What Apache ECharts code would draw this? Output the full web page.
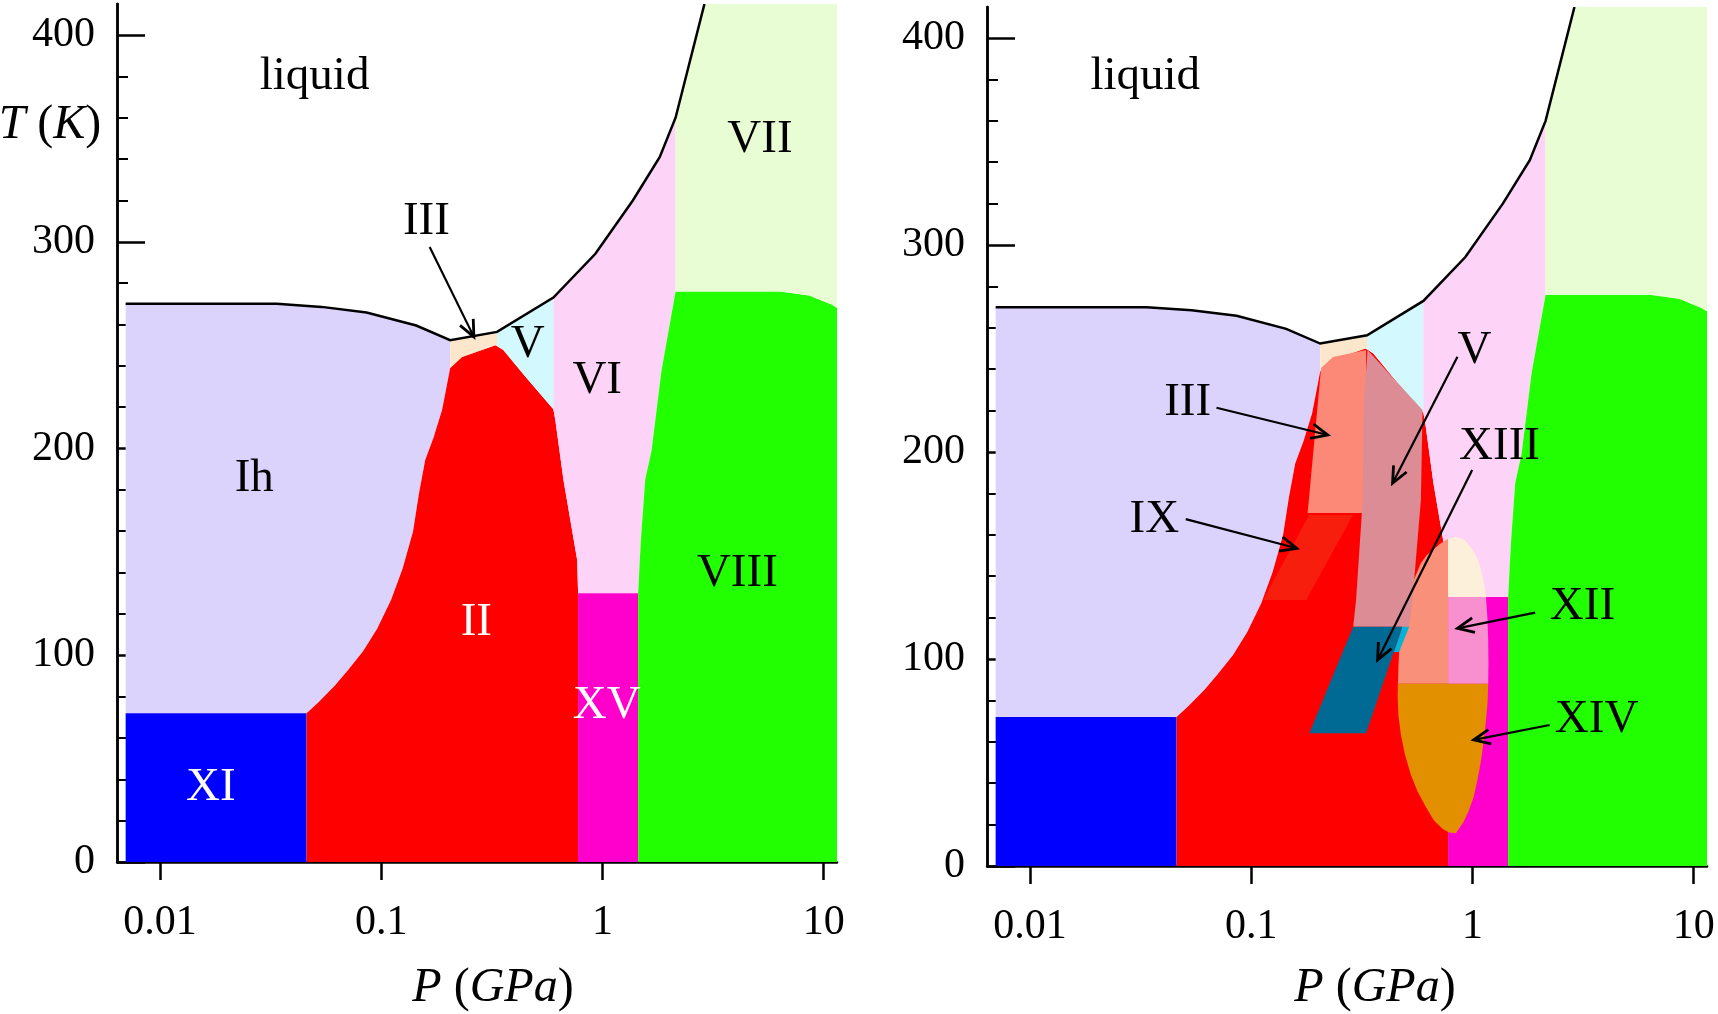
<!DOCTYPE html>
<html><head><meta charset="utf-8">
<script src="https://cdn.jsdelivr.net/npm/echarts@6/dist/echarts.min.js"></script>
<style>html,body{margin:0;padding:0;background:#fff}#c{width:1718px;height:1014px}</style>
</head><body><div id="c"></div>
<script>
// ---------- axis ticks ----------
const xTickP = [0.01, 0.1, 1, 10];
const xTickLabels = ['0.01', '0.1', '1', '10'];
const yMajorTicks = [0, 100, 200, 300, 400];
const yMinorTicks = [20, 40, 60, 80, 120, 140, 160, 180, 220, 240, 260, 280, 320, 340, 360, 380];

// ---------- phase regions, points are [P (GPa), T (K)] ----------
const liquidLine = [[0.0070,270],[0.0337,270],[0.0538,268.5],[0.0859,265.8],[0.144,259.5],[0.205,252.4],[0.334,256.4],[0.600,273],[0.929,294.2],[1.374,320.1],[1.816,341],[2.14,360],[2.89,415]];
const phaseIh = [[0.0070,72],[0.0070,270],[0.0337,270],[0.0538,268.5],[0.0859,265.8],[0.144,259.5],[0.205,252.4],[0.205,238.9],[0.196,228],[0.1884,218.6],[0.172,205],[0.1581,194.4],[0.148,178],[0.1393,159.9],[0.125,142],[0.1109,126.8],[0.096,113],[0.0828,101.9],[0.071,93],[0.0618,85.4],[0.0518,77],[0.046,72]];
const phaseXI = [[0.0070,0],[0.046,0],[0.046,72],[0.0070,72]];
const phaseII = [[0.046,0],[0.046,72],[0.0518,77],[0.0618,85.4],[0.071,93],[0.0828,101.9],[0.096,113],[0.1109,126.8],[0.125,142],[0.1393,159.9],[0.148,178],[0.1581,194.4],[0.172,205],[0.1884,218.6],[0.196,228],[0.205,238.9],[0.2317,244.3],[0.328,250],[0.3565,247.6],[0.4487,234.7],[0.600,219],[0.6124,213.7],[0.6668,184.7],[0.7691,146],[0.776,130],[0.776,0]];
const phaseIII = [[0.205,238.9],[0.205,252.4],[0.334,256.4],[0.334,250],[0.328,250],[0.2317,244.3]];
const phaseV = [[0.334,256.4],[0.600,273],[0.600,219],[0.4487,234.7],[0.3565,247.6],[0.334,250]];
const phaseVI = [[0.600,273],[0.929,294.2],[1.374,320.1],[1.816,341],[2.14,360],[2.14,276],[1.85,238],[1.667,199],[1.56,185],[1.49,155],[1.45,130],[0.776,130],[0.7691,146],[0.6668,184.7],[0.6124,213.7],[0.600,219]];
const phaseXV = [[0.776,0],[1.45,0],[1.45,130],[0.776,130]];
const phaseVIII = [[1.45,0],[11.5,0],[11.5,268],[10.84,269.6],[8.6,274],[6.35,276],[2.14,276],[1.85,238],[1.667,199],[1.56,185],[1.49,155],[1.45,130]];
const phaseVII = [[2.14,276],[2.14,360],[2.89,415],[11.5,415],[11.5,268],[10.84,269.6],[8.6,274],[6.35,276]];

// ---------- metastable / ordered phases (right panel overlays) ----------
const overIII = [[0.207,240.6],[0.2344,245.9],[0.3304,249.3],[0.3304,170.5],[0.1799,170.5]];
const overIX = [[0.1828,169.6],[0.2884,169.6],[0.177,128.5],[0.1132,128.5]];
const ellSalmon = [[0.7762,158],[0.7762,88],[0.4603,88],[0.4630,97],[0.4667,104.3],[0.4790,114],[0.4955,122.7],[0.5150,130],[0.5358,136.6],[0.5848,146.4],[0.6200,150],[0.6607,152.7],[0.7100,155.5],[0.7586,157.5]];
const ellCream = [[0.7762,158],[0.8414,159.1],[0.9200,157.5],[0.9897,153.6],[1.050,149],[1.094,143],[1.130,136],[1.151,130],[0.7762,130]];
const overXII = [[0.7762,130],[1.151,130],[1.168,120],[1.178,109.2],[1.181,98],[1.178,88],[0.7762,88]];
const overXIV = [[1.178,88],[1.170,79],[1.151,70.5],[1.125,60.5],[1.094,51.2],[1.055,42],[1.013,33.5],[0.960,26.5],[0.911,21.3],[0.8414,15.8],[0.7850,16.2],[0.7345,17.9],[0.6700,22],[0.6152,28.6],[0.5650,36],[0.5272,44],[0.4950,54],[0.4753,63.3],[0.4630,72.5],[0.4592,81.6],[0.4603,88]];
const overV = [[0.3357,249.3],[0.5948,220.3],[0.5848,176.8],[0.5358,128.5],[0.5164,115.6],[0.2891,115.6],[0.2979,128.5],[0.3192,176.8],[0.3236,225.1]];
const overXIII = [[0.2891,115.6],[0.4831,115.6],[0.4285,99.5],[0.3304,64.1],[0.1832,64.1],[0.2296,89.9]];
const overXIIIedge = [[0.4831,115.6],[0.5176,115.6],[0.4656,103.4],[0.4416,103.4]];

// ---------- labels [text, P, T] ----------
const labelsLeft = [['liquid',0.05,379.7],['III',0.16,309.5],['V',0.46,250],['VI',0.947,233],['VII',5.15,349.6],['Ih',0.0267,185.3],['VIII',4.07,139.7]];
const labelsLeftWhite = [['II',0.269,116],['XV',1.046,75.6],['XI',0.017,35.9]];
const labelsRight = [['liquid',0.0332,381.3],['III',0.0516,223.7],['V',1.02,249],['XIII',1.326,202.8],['IX',0.0365,167.4],['XII',3.14,125.4],['XIV',3.64,70.5]];

// ---------- arrows [from, to] ----------
const arrowsLeft = [[[0.1656,297.5],[0.2624,254]]];
const arrowsRight = [
  [[0.0697,221.4],[0.2218,208.2]],
  [[0.8555,246],[0.4355,184.9]],
  [[0.997,191.3],[0.3727,99.5]],
  [[0.0506,167.6],[0.1607,153.5]],
  [[1.92,122.4],[0.8555,114.8]],
  [[2.234,68.1],[1.013,60.9]]
];

const FONT = 'Liberation Serif';
const lg = Math.log10;
const LGMIN = -2.194, LGMAX = 1.06;

const chart = echarts.init(document.getElementById('c'), null, {renderer: 'canvas', width: 1718, height: 1014});

function xAxisDef(gi) {
  const vals = xTickP.map(lg);
  return {
    type: 'value', gridIndex: gi, min: LGMIN, max: LGMAX, position: 'bottom',
    splitLine: {show: false},
    axisLine: {onZero: false, lineStyle: {color: '#000', width: 2.5}},
    axisTick: {customValues: vals, inside: false, length: 18, lineStyle: {color: '#000', width: 2.5}},
    axisLabel: {
      customValues: vals, margin: 40, color: '#000', fontFamily: FONT, fontSize: 42,
      formatter: v => { const i = vals.findIndex(t => Math.abs(t - v) < 1e-6); return i >= 0 ? xTickLabels[i] : ''; }
    }
  };
}
function yMajor(gi) {
  return {
    type: 'value', gridIndex: gi, min: 0, max: 415, position: 'left',
    splitLine: {show: false},
    axisLine: {onZero: false, lineStyle: {color: '#000', width: 2.5}},
    axisTick: {customValues: yMajorTicks, inside: true, length: 28, lineStyle: {color: '#000', width: 2.5}},
    axisLabel: {customValues: yMajorTicks, margin: 22, color: '#000', fontFamily: FONT, fontSize: 42}
  };
}
function yMinor(gi) {
  return {
    type: 'value', gridIndex: gi, min: 0, max: 415, position: 'left', offset: 0,
    splitLine: {show: false},
    axisLine: {show: true, onZero: false, lineStyle: {color: '#000', width: 2.5}},
    axisTick: {show: true, customValues: yMinorTicks, inside: true, length: 11, lineStyle: {color: '#000', width: 2}},
    axisLabel: {show: false}
  };
}

function region(gi, pts, color, z) {
  return {
    type: 'custom', xAxisIndex: gi, yAxisIndex: gi * 2, data: [[0, 100]], z: z || 2, silent: true, clip: true,
    renderItem: (params, api) => ({
      type: 'polygon',
      shape: {points: pts.map(p => api.coord([lg(p[0]), p[1]]))},
      style: {fill: color}
    })
  };
}
function lineSeries(gi, pts) {
  return {
    type: 'custom', xAxisIndex: gi, yAxisIndex: gi * 2, data: [[0, 100]], z: 5, silent: true, clip: true,
    renderItem: (params, api) => ({
      type: 'polyline',
      shape: {points: pts.map(p => api.coord([lg(p[0]), p[1]]))},
      style: {stroke: '#000', lineWidth: 2.5, fill: null}
    })
  };
}
function arrowSeries(gi, arrows) {
  return {
    type: 'custom', xAxisIndex: gi, yAxisIndex: gi * 2, data: arrows.map((a, i) => [0, 100, i]), z: 6, silent: true, clip: false,
    renderItem: (params, api) => {
      const ar = arrows[params.dataIndex];
      const a = api.coord([lg(ar[0][0]), ar[0][1]]);
      const b = api.coord([lg(ar[1][0]), ar[1][1]]);
      const ang = Math.atan2(b[1] - a[1], b[0] - a[0]);
      const L = 18, w = 0.42;
      const p1 = [b[0] - L * Math.cos(ang - w), b[1] - L * Math.sin(ang - w)];
      const p2 = [b[0] - L * Math.cos(ang + w), b[1] - L * Math.sin(ang + w)];
      return {
        type: 'group', children: [
          {type: 'line', shape: {x1: a[0], y1: a[1], x2: b[0], y2: b[1]}, style: {stroke: '#000', lineWidth: 2.2}},
          {type: 'polyline', shape: {points: [p1, b, p2]}, style: {stroke: '#000', lineWidth: 2.8, fill: null}}
        ]
      };
    }
  };
}
function labelSeries(gi, labels, color) {
  return {
    type: 'custom', xAxisIndex: gi, yAxisIndex: gi * 2, data: labels.map((l, i) => [0, 100, i]), z: 7, silent: true, clip: false,
    renderItem: (params, api) => {
      const l = labels[params.dataIndex];
      const c = api.coord([lg(l[1]), l[2]]);
      return {
        type: 'text', x: c[0], y: c[1],
        style: {text: l[0], fill: color, fontFamily: FONT, fontSize: 47, align: 'center', verticalAlign: 'middle'}
      };
    }
  };
}

const series = [];
function baseDiagram(gi) {
  series.push(region(gi, phaseIh, '#DCD3FC'));
  series.push(region(gi, phaseXI, '#0000FF'));
  series.push(region(gi, phaseII, '#FF0000'));
  series.push(region(gi, phaseIII, '#FDE7CC'));
  series.push(region(gi, phaseV, '#D3F8FD'));
  series.push(region(gi, phaseVI, '#FDD3F7'));
  series.push(region(gi, phaseXV, '#FF00CC'));
  series.push(region(gi, phaseVIII, '#22FF00'));
  series.push(region(gi, phaseVII, '#E9FDD4'));
}
baseDiagram(0);
baseDiagram(1);
// overlays in right panel
[[overIII, '#FC8878'], [overIX, '#F81E0E'], [ellSalmon, '#F9907A'], [ellCream, '#FCF0DA'],
 [overXII, '#F890D0'], [overXIV, '#E39000'], [overV, '#DC8C94'], [overXIII, '#006A94'], [overXIIIedge, '#00B4D8']]
  .forEach(o => series.push(region(1, o[0], o[1], 3)));
series.push(lineSeries(0, liquidLine));
series.push(lineSeries(1, liquidLine));
series.push(arrowSeries(0, arrowsLeft));
series.push(arrowSeries(1, arrowsRight));
series.push(labelSeries(0, labelsLeft, '#000'));
series.push(labelSeries(0, labelsLeftWhite, '#FFF'));
series.push(labelSeries(1, labelsRight, '#000'));

const titleStyle = (txt) => ({
  text: txt, fill: '#000', fontFamily: FONT, fontSize: 48, align: 'center', verticalAlign: 'middle',
  rich: {i: {fontStyle: 'italic', fontFamily: FONT, fontSize: 48, fill: '#000'}}
});

chart.setOption({
  animation: false,
  backgroundColor: '#fff',
  grid: [
    {left: 117, top: 4, width: 720, height: 858, containLabel: false, outerBoundsMode: 'none'},
    {left: 987, top: 7, width: 720, height: 859, containLabel: false, outerBoundsMode: 'none'}
  ],
  xAxis: [xAxisDef(0), xAxisDef(1)],
  yAxis: [yMajor(0), yMinor(0), yMajor(1), yMinor(1)],
  series: series,
  graphic: [
    {type: 'text', x: 50, y: 125, z: 100, style: titleStyle('{i|T} ({i|K})')},
    {type: 'text', x: 493, y: 988, z: 100, style: titleStyle('{i|P} ({i|GPa})')},
    {type: 'text', x: 1375, y: 988, z: 100, style: titleStyle('{i|P} ({i|GPa})')}
  ]
});
</script>
</body></html>
